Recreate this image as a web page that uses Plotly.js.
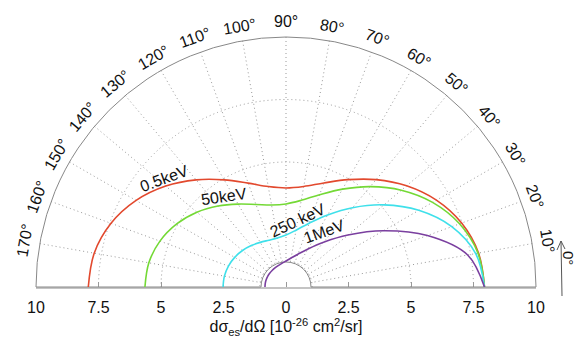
<!DOCTYPE html>
<html>
<head>
<meta charset="utf-8">
<script src="https://cdn.plot.ly/plotly-3.0.1.min.js"></script>
<style>html,body{margin:0;padding:0;background:#fff;}#chart{width:577px;height:338px;}</style>
</head>
<body>
<div id="chart"></div>
<script>
// scattering angle (degrees)
const angles = [0,10,20,30,40,50,60,70,80,90,100,110,120,130,140,150,160,170,180];
// differential cross section dσ/dΩ [1e-26 cm^2/sr]
const r05keV  = [7.94,7.820,7.475,6.946,6.297,5.606,4.958,4.428,4.083,3.962,4.081,4.422,4.948,5.592,6.278,6.923,7.448,7.790,7.909];
const r50keV  = [7.94,7.797,7.388,6.770,6.023,5.242,4.519,3.928,3.521,3.323,3.328,3.512,3.830,4.230,4.654,5.048,5.366,5.571,5.643];
const r250keV = [7.94,7.705,7.056,6.133,5.110,4.140,3.327,2.716,2.308,2.078,1.986,1.992,2.061,2.162,2.271,2.371,2.451,2.502,2.519];
const r1MeV   = [7.94,7.378,6.020,4.497,3.233,2.339,1.759,1.397,1.176,1.042,0.961,0.911,0.882,0.864,0.853,0.847,0.844,0.842,0.841];
const seriesNames = ['0.5keV','50keV','250 keV','1MeV'];
const seriesColors = ['#e2492e','#74d936','#3fe0ea','#7a3f9f'];
// bottom axis ticks
const xTickVals = [-10,-7.5,-5,-2.5,0,2.5,5,7.5,10];
const xTickText = ['10','7.5','5','2.5','0','2.5','5','7.5','10'];
const angleLabels = [10,20,30,40,50,60,70,80,90,100,110,120,130,140,150,160,170];
const ringVals = [1.05, 5, 7.5];

const seriesData = [r05keV, r50keV, r250keV, r1MeV];
// grid-only carrier on the first polar subplot (drawn underneath)
const traces = [{type: 'scatterpolar', subplot: 'polar', r: [10], theta: [90], mode: 'markers',
  marker: {opacity: 0}, hoverinfo: 'skip', showlegend: false}];
seriesData.forEach((r, i) => traces.push({
  type: 'scatterpolar', subplot: 'polar2', r: r, theta: angles, mode: 'lines',
  line: {color: seriesColors[i], width: 1.6, shape: 'spline'},
  name: seriesNames[i], hoverinfo: 'skip', showlegend: false
}));
// carrier trace for the bottom cartesian axis
traces.push({type: 'scatter', x: [xTickVals[0], xTickVals[xTickVals.length-1]], y: [0, 0],
  mode: 'markers', marker: {opacity: 0}, hoverinfo: 'skip', showlegend: false, xaxis: 'x', yaxis: 'y'});

// geometry helpers (pixel -> paper within plot area)
const L = 36, T = 37, W = 500, H = 250;
const px = x => (x - L) / W;
const py = y => (T + H - y) / H;

const annotations = angleLabels.map(a => {
  const rad = a * Math.PI / 180, rp = 265;
  return {xref: 'paper', yref: 'paper', x: 0.5 + rp * Math.cos(rad) / W, y: rp * Math.sin(rad) / H,
    text: a + '°', showarrow: false, textangle: 90 - a, xanchor: 'center', yanchor: 'middle',
    font: {size: 16, color: '#111'}};
});
annotations.push({xref: 'paper', yref: 'paper', x: px(569), y: py(258), text: '0°', showarrow: false,
  textangle: 90, xanchor: 'center', yanchor: 'middle', font: {size: 15, color: '#111'}});
const curveLabels = [
  {t: seriesNames[0], x: 164, y: 178, a: -20},
  {t: seriesNames[1], x: 224, y: 196, a: -8},
  {t: seriesNames[2], x: 297, y: 220, a: -25},
  {t: seriesNames[3], x: 324, y: 231, a: -20}
];
curveLabels.forEach(c => annotations.push({xref: 'paper', yref: 'paper', x: px(c.x), y: py(c.y), text: c.t,
  showarrow: false, textangle: c.a, xanchor: 'center', yanchor: 'middle', font: {size: 16, color: '#111'}}));

const shapes = [
  {type: 'line', xref: 'paper', yref: 'paper', x0: px(562), y0: py(296), x1: px(561), y1: py(241), line: {color: '#555', width: 1}},
  {type: 'line', xref: 'paper', yref: 'paper', x0: px(561), y0: py(241), x1: px(557), y1: py(250), line: {color: '#555', width: 1}},
  {type: 'line', xref: 'paper', yref: 'paper', x0: px(561), y0: py(241), x1: px(565), y1: py(249), line: {color: '#555', width: 1}}
];

const layout = {
  width: 577, height: 338,
  margin: {l: L, r: 577 - L - W, t: T, b: 338 - T - H, pad: 0},
  paper_bgcolor: '#fff', plot_bgcolor: 'rgba(0,0,0,0)',
  showlegend: false,
  font: {family: 'Liberation Sans, Arial, sans-serif', size: 16, color: '#111'},
  polar: {
    domain: {x: [0, 1], y: [0, 1]},
    sector: [0, 180], hole: 0.1,
    bgcolor: 'rgba(0,0,0,0)',
    radialaxis: {range: [1, 10], tickvals: ringVals, showticklabels: false, ticks: '', showline: false,
      gridcolor: '#999', griddash: '1px,3px', gridwidth: 1},
    angularaxis: {tickmode: 'array', tickvals: angleLabels, showticklabels: false, ticks: '',
      showline: true, linecolor: '#888', linewidth: 1, gridcolor: '#999', griddash: '1px,3px', gridwidth: 1,
      direction: 'counterclockwise', rotation: 0}
  },
  polar2: {
    domain: {x: [0, 1], y: [0, 1]},
    sector: [0, 180],
    bgcolor: 'rgba(0,0,0,0)',
    radialaxis: {range: [0, 10], showgrid: false, showticklabels: false, ticks: '', showline: false},
    angularaxis: {showgrid: false, showticklabels: false, ticks: '', showline: false,
      direction: 'counterclockwise', rotation: 0}
  },
  xaxis: {domain: [0, 1], range: [-10, 10], tickvals: xTickVals, ticktext: xTickText,
    showline: true, linecolor: '#c4c4c4', linewidth: 1.5, ticks: 'inside', ticklen: 5, tickcolor: '#999',
    ticklabelstandoff: 5,
    showgrid: false, zeroline: false, fixedrange: true, tickfont: {size: 16, color: '#111'},
    title: {text: 'dσ<sub>es</sub>/dΩ [10<sup>-26</sup> cm<sup>2</sup>/sr]', font: {size: 16, color: '#111'}, standoff: 5}},
  yaxis: {domain: [0, 1], range: [0, 1], visible: false, fixedrange: true},
  annotations: annotations,
  shapes: shapes
};

Plotly.newPlot('chart', traces, layout, {staticPlot: true, displayModeBar: false});
</script>
</body>
</html>
